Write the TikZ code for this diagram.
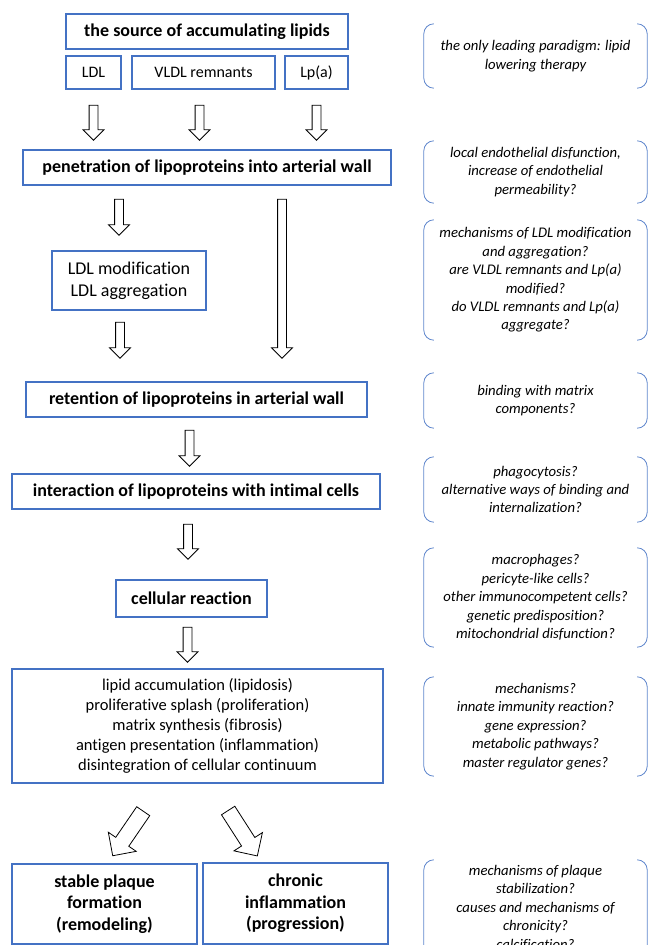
\documentclass[tikz,border=0pt]{standalone}
\usepackage{fontspec}
\setmainfont{Carlito}[Ligatures=NoCommon]
\usetikzlibrary{shapes.arrows}
\definecolor{boxblue}{HTML}{4472C4}

\tikzset{
  box/.style={draw=boxblue, line width=1.2pt, align=center, inner sep=2pt,
    font=\fontsize{16}{20}\selectfont},
  title/.style={box, font=\fontsize{18}{21.6}\selectfont\bfseries},
  note/.style={align=center, minimum width=223pt, inner sep=0pt,
    font=\fontsize{14.7}{18.4}\selectfont\itshape},
  bracketline/.style={draw=boxblue!85, line width=0.8pt, rounded corners=10pt},
  hollow/.style={single arrow, draw=black, fill=white, line width=0.8pt,
    inner sep=4pt, minimum width=20pt, single arrow head extend=6pt},
  bigarrow/.style={hollow, inner sep=7.5pt, minimum width=33pt,
    single arrow head extend=9pt}
}

\begin{document}
\begin{tikzpicture}[x=1pt,y=-1pt]
    \useasboundingbox (0,0) rectangle (648,945);
    \clip (0,0) rectangle (648,945);

    % left column
    \node[title, minimum width=282pt, minimum height=35pt] (src) at (207,31.5) {the source of accumulating lipids};
    \node[box, minimum width=55pt, minimum height=33pt] (ldl) at (93.5,72.5) {LDL};
    \node[box, minimum width=143pt, minimum height=33pt] (vldl) at (203.5,72.5) {VLDL remnants};
    \node[box, minimum width=63pt, minimum height=33pt] (lpa) at (316.5,72.5) {Lp(a)};

    \node[hollow, rotate=-90, minimum height=35pt] (a1) at (93.5,120.5) {};
    \node[hollow, rotate=-90, minimum height=35pt] (a2) at (199.5,120.5) {};
    \node[hollow, rotate=-90, minimum height=35pt] (a3) at (316.5,120.5) {};

    \node[title, minimum width=368pt, minimum height=35pt] (pen) at (207,167.5) {penetration of lipoproteins into arterial wall};

    \node[hollow, rotate=-90, minimum height=36pt] (a4) at (119,215) {};
    \node[hollow, rotate=-90, minimum height=159pt] (a5) at (282,276.5) {};

    \node[box, minimum width=154pt, minimum height=59pt, font=\fontsize{18}{22}\selectfont] (mod) at (129,280.5) {LDL modification\\LDL aggregation};

    \node[hollow, rotate=-90, minimum height=36pt] (a6) at (120,338) {};

    \node[title, minimum width=341pt, minimum height=35pt] (ret) at (196.5,399.5) {retention of lipoproteins in arterial wall};

    \node[hollow, rotate=-90, minimum height=36pt] (a7) at (189.5,446) {};

    \node[title, minimum width=368pt, minimum height=35pt] (inter) at (196,491.5) {interaction of lipoproteins with intimal cells};

    \node[hollow, rotate=-90, minimum height=35pt] (a8) at (188,539.5) {};

    \node[title, minimum width=151pt, minimum height=37pt] (cell) at (191.5,598.5) {cellular reaction};

    \node[hollow, rotate=-90, minimum height=35pt] (a9) at (187.5,642.5) {};

    \node[box, minimum width=371pt, minimum height=114pt, font=\fontsize{16.5}{20}\selectfont] (resp) at (197.5,726) {lipid accumulation (lipidosis)\\proliferative splash (proliferation)\\matrix synthesis (fibrosis)\\antigen presentation (inflammation)\\disintegration of cellular continuum};

    \node[bigarrow, rotate=-124.4, minimum height=54pt] (a10) at (130.2,830.2) {};
    \node[bigarrow, rotate=-57.3, minimum height=54pt] (a11) at (240.6,829.9) {};

    \node[title, minimum width=185pt, minimum height=80pt] (stable) at (104.5,904) {stable plaque\\formation\\(remodeling)};
    \node[title, minimum width=185pt, minimum height=81pt] (chron) at (295.5,903.5) {chronic\\inflammation\\(progression)};

    % right column
    \node[note, minimum height=64pt] (n1) at (535.5,56) {the only leading paradigm: lipid\\lowering therapy};
    \node[note, minimum height=62pt] (n2) at (535.5,172) {local endothelial disfunction,\\increase of endothelial\\permeability?};
    \node[note, minimum height=120pt] (n3) at (535.5,280) {mechanisms of LDL modification\\and aggregation?\\are VLDL remnants and Lp(a)\\modified?\\do VLDL remnants and Lp(a)\\aggregate?};
    \node[note, minimum height=55pt] (n4) at (535.5,400.5) {binding with matrix\\components?};
    \node[note, minimum height=65pt] (n5) at (535.5,489.5) {phagocytosis?\\alternative ways of binding and\\internalization?};
    \node[note, minimum height=99pt] (n6) at (535.5,597.5) {macrophages?\\pericyte-like cells?\\other immunocompetent cells?\\genetic predisposition?\\mitochondrial disfunction?};
    \node[note, minimum height=99pt] (n7) at (535.5,726.5) {mechanisms?\\innate immunity reaction?\\gene expression?\\metabolic pathways?\\master regulator genes?};
    \node[note, minimum height=96pt] (n8) at (535.5,908) {mechanisms of plaque\\stabilization?\\causes and mechanisms of\\chronicity?\\calcification?};

    \foreach \n in {n1,n2,n3,n4,n5,n6,n7,n8} {
        \draw[bracketline] ([xshift=10pt]\n.north west) -- (\n.north west) -- (\n.south west) -- ([xshift=10pt]\n.south west);
        \draw[bracketline] ([xshift=-10pt]\n.north east) -- (\n.north east) -- (\n.south east) -- ([xshift=-10pt]\n.south east);
    }
\end{tikzpicture}
\end{document}
